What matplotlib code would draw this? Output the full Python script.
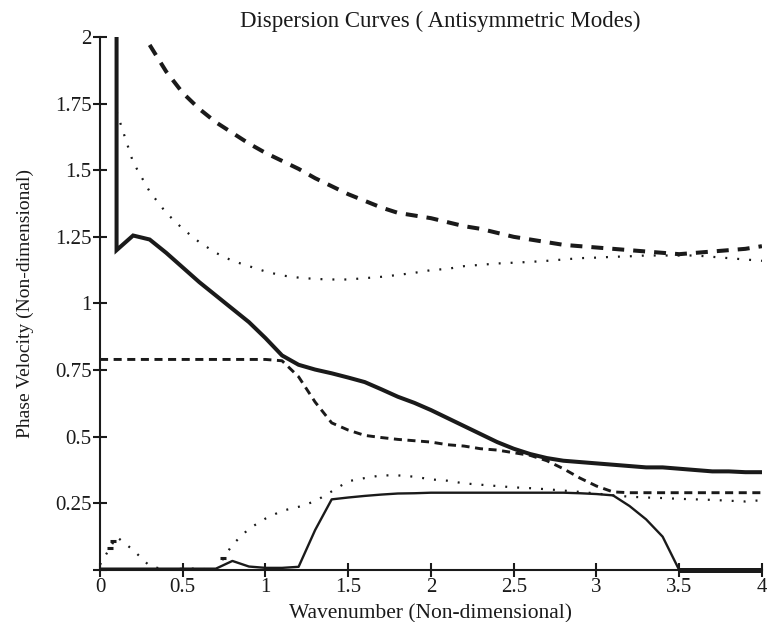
import numpy as np
import matplotlib
matplotlib.use("Agg")
import matplotlib.pyplot as plt

# wavenumber grids
k_a = [0.1, 0.1, 0.2, 0.3, 0.4, 0.5, 0.6, 0.7, 0.8, 0.9, 1.0,
       1.1, 1.2, 1.3, 1.4, 1.5, 1.6, 1.7, 1.8, 1.9, 2.0,
       2.1, 2.2, 2.3, 2.4, 2.5, 2.6, 2.7, 2.8, 2.9, 3.0,
       3.1, 3.2, 3.3, 3.4, 3.5, 3.6, 3.7, 3.8, 3.9, 4.0]
c_a = [2.6, 1.2, 1.255, 1.24, 1.19, 1.135, 1.08, 1.03, 0.98, 0.93, 0.87,
       0.805, 0.77, 0.752, 0.738, 0.722, 0.705, 0.678, 0.65, 0.627, 0.60,
       0.57, 0.54, 0.51, 0.48, 0.455, 0.435, 0.42, 0.41, 0.405, 0.40,
       0.395, 0.39, 0.385, 0.385, 0.38, 0.375, 0.37, 0.37, 0.367, 0.367]

k_b = [0.3, 0.4, 0.5, 0.6, 0.7, 0.8, 0.9, 1.0,
       1.1, 1.2, 1.3, 1.4, 1.5, 1.6, 1.7, 1.8, 1.9, 2.0,
       2.1, 2.2, 2.3, 2.4, 2.5, 2.6, 2.7, 2.8, 2.9, 3.0,
       3.1, 3.2, 3.3, 3.4, 3.5, 3.6, 3.7, 3.8, 3.9, 4.0]
c_b = [1.97, 1.87, 1.79, 1.73, 1.68, 1.64, 1.60, 1.565,
       1.535, 1.505, 1.47, 1.44, 1.41, 1.385, 1.36, 1.34, 1.33, 1.32,
       1.305, 1.29, 1.28, 1.265, 1.25, 1.24, 1.23, 1.22, 1.215, 1.21,
       1.205, 1.20, 1.195, 1.19, 1.185, 1.19, 1.195, 1.20, 1.205, 1.215]

k_c = [0.1, 0.2, 0.3, 0.4, 0.5, 0.6, 0.7, 0.8, 0.9, 1.0,
       1.1, 1.2, 1.3, 1.4, 1.5, 1.6, 1.7, 1.8, 1.9, 2.0,
       2.1, 2.2, 2.3, 2.4, 2.5, 2.6, 2.7, 2.8, 2.9, 3.0,
       3.1, 3.2, 3.3, 3.4, 3.5, 3.6, 3.7, 3.8, 3.9, 4.0]
c_c = [1.72, 1.53, 1.42, 1.34, 1.28, 1.23, 1.19, 1.16, 1.14, 1.12,
       1.105, 1.097, 1.092, 1.09, 1.09, 1.095, 1.10, 1.107, 1.115, 1.125,
       1.13, 1.14, 1.145, 1.15, 1.153, 1.156, 1.16, 1.165, 1.17, 1.172,
       1.175, 1.177, 1.18, 1.18, 1.18, 1.18, 1.175, 1.17, 1.165, 1.16]

k_full = [0.0, 0.1, 0.2, 0.3, 0.4, 0.5, 0.6, 0.7, 0.8, 0.9, 1.0,
          1.1, 1.2, 1.3, 1.4, 1.5, 1.6, 1.7, 1.8, 1.9, 2.0,
          2.1, 2.2, 2.3, 2.4, 2.5, 2.6, 2.7, 2.8, 2.9, 3.0,
          3.1, 3.2, 3.3, 3.4, 3.5, 3.6, 3.7, 3.8, 3.9, 4.0]
c_d = [0.79, 0.79, 0.79, 0.79, 0.79, 0.79, 0.79, 0.79, 0.79, 0.79, 0.79,
       0.785, 0.725, 0.63, 0.552, 0.525, 0.505, 0.497, 0.49, 0.485, 0.48,
       0.47, 0.465, 0.455, 0.45, 0.44, 0.43, 0.41, 0.38, 0.345, 0.315,
       0.293, 0.29, 0.29, 0.29, 0.29, 0.29, 0.29, 0.29, 0.29, 0.29]
c_e = [0.02, 0.125, 0.075, 0.015, 0.0, 0.005, 0.005, 0.0, 0.095, 0.155, 0.193,
       0.222, 0.237, 0.258, 0.295, 0.333, 0.345, 0.355, 0.355, 0.35, 0.34,
       0.335, 0.325, 0.32, 0.315, 0.31, 0.307, 0.303, 0.298, 0.293, 0.287,
       0.28, 0.275, 0.272, 0.27, 0.267, 0.265, 0.263, 0.26, 0.257, 0.262]
c_f = [0.005, 0.005, 0.005, 0.005, 0.005, 0.005, 0.005, 0.005, 0.034, 0.013, 0.008,
       0.008, 0.012, 0.15, 0.265, 0.272, 0.278, 0.283, 0.287, 0.288, 0.29,
       0.29, 0.29, 0.29, 0.29, 0.29, 0.29, 0.29, 0.29, 0.288, 0.285,
       0.28, 0.24, 0.19, 0.125, 0.0, 0.0, 0.0, 0.0, 0.0, 0.0]

# short stray dashes near the origin
k_spur = [0.06, 0.08, 0.745]
c_spur = [0.083, 0.11, 0.045]

# thick branch lying on the axis
k_zero = [3.5, 4.0]
c_zero = [0.0, 0.0]

xticks = [0, 0.5, 1, 1.5, 2, 2.5, 3, 3.5, 4]
xtick_labels = ["0", "0.5", "1", "1.5", "2", "2.5", "3", "3.5", "4"]
yticks = [0, 0.25, 0.5, 0.75, 1, 1.25, 1.5, 1.75, 2]
ytick_labels = ["", "0.25", "0.5", "0.75", "1", "1.25", "1.5", "1.75", "2"]

plt.rcParams['font.family'] = ['Liberation Serif', 'DejaVu Serif']
plt.rcParams['lines.scale_dashes'] = False

fig = plt.figure(figsize=(7.67, 6.22), dpi=100)
ax = fig.add_axes([0.1304, 0.0836, 0.863, 0.857])

col = '#1a1a1a'
ax.plot(k_a, c_a, color=col, lw=2.9, solid_joinstyle='miter')
ax.plot(k_b, c_b, color=col, lw=2.9, dashes=(8.6, 6.5))
ax.plot(k_c, c_c, color=col, lw=1.6, dashes=(1.4, 7.2))
ax.plot(k_full, c_d, color=col, lw=2.1, dashes=(5.8, 4.0))
ax.plot(k_full, c_e, color=col, lw=1.6, dashes=(1.4, 7.2))
ax.plot(k_full, c_f, color=col, lw=1.7)
ax.plot(k_spur, c_spur, ls='none', marker='_', ms=5, mew=2.2, color=col)
ax.plot(k_zero, c_zero, color=col, lw=3.6, solid_capstyle='butt', clip_on=False)

ax.set_xlim(0, 4)
ax.set_ylim(0, 2)
ax.set_xticks(xticks)
ax.set_xticklabels(xtick_labels)
ax.set_yticks(yticks)
ax.set_yticklabels(ytick_labels)

for side in ['top', 'right']:
    ax.spines[side].set_visible(False)
for side in ['left', 'bottom']:
    ax.spines[side].set_linewidth(1.5)
    ax.spines[side].set_color(col)

ax.tick_params(direction='inout', length=10, width=1.5, color=col,
               labelsize=15, labelcolor=col, pad=1)

ax.set_title("Dispersion Curves ( Antisymmetric Modes)", fontsize=16.5, pad=7,
             color=col, x=0.514)
ax.set_xlabel("Wavenumber (Non-dimensional)", fontsize=15.5, labelpad=5, color=col)
ax.set_ylabel("Phase Velocity (Non-dimensional)", fontsize=14, labelpad=15, color=col)

fig.savefig("out.png", dpi=100)
